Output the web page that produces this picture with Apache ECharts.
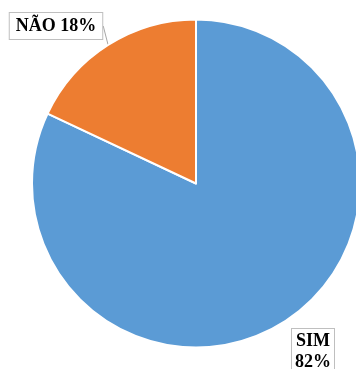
<!DOCTYPE html>
<html>
<head>
<meta charset="utf-8">
<script src="https://cdn.jsdelivr.net/npm/echarts@6/dist/echarts.min.js"></script>
<style>
  html, body { margin: 0; padding: 0; background: #fff; }
  #chart { width: 356px; height: 369px; }
</style>
</head>
<body>
<div id="chart"></div>
<script>
// Answer categories and their shares (%)
const categories = ['SIM', 'NÃO'];
const shares = [82, 18];
const sliceColors = ['#5B9BD5', '#ED7D31'];

const labelBase = {
  show: true,
  overflow: 'none',
  fontFamily: 'Liberation Serif',
  fontWeight: 'bold',
  fontSize: 18,
  color: '#000',
  backgroundColor: '#fff',
  borderColor: '#bfbfbf',
  borderWidth: 1
};

const data = categories.map((name, i) => ({
  name: name,
  value: shares[i],
  itemStyle: { color: sliceColors[i] },
  label: i === 0
    ? Object.assign({}, labelBase, { formatter: '{b}\n{c}%', lineHeight: 21, padding: [2, 3, 2, 3], align: 'center' })
    : Object.assign({}, labelBase, { formatter: '{b} {c}%', lineHeight: 20, padding: [3, 6, 3, 6] }),
  labelLine: i === 0
    ? { show: false }
    : { show: true, length: 0, length2: 0, smooth: false, lineStyle: { color: '#a6a6a6', width: 1 } }
}));

const chart = echarts.init(document.getElementById('chart'), null, { renderer: 'canvas' });
chart.setOption({
  animation: false,
  backgroundColor: '#fff',
  series: [{
    type: 'pie',
    center: [196, 183.5],
    radius: [0, 164],
    startAngle: 90,
    clockwise: true,
    avoidLabelOverlap: false,
    itemStyle: { borderColor: '#fff', borderWidth: 2 },
    label: { position: 'outside', alignTo: 'none', bleedMargin: 0 },
    data: data,
    labelLayout: function (params) {
      if (params.dataIndex === 0) {
        return { x: 313, y: 329, align: 'center', verticalAlign: 'top' };
      }
      return { x: 56, y: 26, align: 'center', verticalAlign: 'middle' };
    }
  }]
});
</script>
</body>
</html>
